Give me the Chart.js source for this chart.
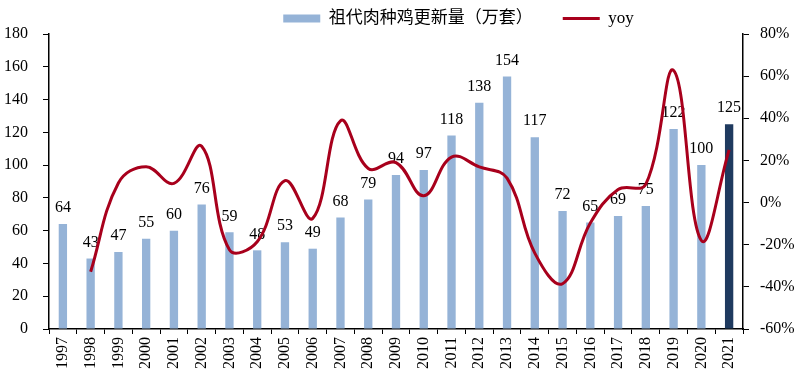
<!DOCTYPE html>
<html>
<head>
<meta charset="utf-8">
<script src="https://cdn.jsdelivr.net/npm/chart.js@4/dist/chart.umd.min.js"></script>
<style>
  html, body { margin: 0; background: #fff; }
  #wrap { width: 800px; height: 379px; }
</style>
</head>
<body>
<div id="wrap"><canvas id="chart"></canvas></div>
<script>
const years = ["1997", "1998", "1999", "2000", "2001", "2002", "2003", "2004", "2005",
    "2006", "2007", "2008", "2009", "2010", "2011", "2012", "2013", "2014", "2015",
    "2016", "2017", "2018", "2019", "2020", "2021"];

// 祖代肉种鸡更新量（万套）
const updates = [64, 43, 47, 55, 60, 76, 59, 48, 53, 49, 68, 79, 94, 97, 118, 138,
    154, 117, 72, 65, 69, 75, 122, 100, 125];

// yoy, %
const yoy = [null, -32.8, 9.3, 17.0, 9.1, 26.7, -22.4, -18.6, 10.4, -7.5, 38.8, 16.2,
    19.0, 3.2, 21.6, 16.9, 11.6, -24.0, -38.5, -9.7, 6.2, 8.7, 62.7, -18.0, 25.0];

const leftTicks = [0, 20, 40, 60, 80, 100, 120, 140, 160, 180];
const rightTicks = [-60, -40, -20, 0, 20, 40, 60, 80];

const serif = "'Liberation Serif', 'Noto Sans CJK SC', serif";
const barColors = years.map(y => y === "2021" ? "#1F3A5F" : "#95B3D7");

// value labels above the bars, drawn before the line so the line sits on top
const barLabels = {
    id: "barLabels",
    afterDatasetDraw(chart, args) {
        if (args.index !== 0) return;
        const ctx = chart.ctx;
        ctx.save();
        ctx.font = "16px " + serif;
        ctx.fillStyle = "#000";
        ctx.textAlign = "center";
        ctx.textBaseline = "bottom";
        args.meta.data.forEach((bar, i) => {
            ctx.fillText(updates[i], bar.x, bar.y - 8);
        });
        ctx.restore();
    }
};

// nudge the legend like the original
const legendShift = {
    id: "legendShift",
    afterLayout(chart) {
        chart.legend.left += 117;
        chart.legend.top += 3;
    }
};

new Chart(document.getElementById("chart"), {
    data: {
        labels: years,
        datasets: [{
            type: "bar",
            label: "祖代肉种鸡更新量（万套）",
            data: updates,
            backgroundColor: barColors,
            borderWidth: 0,
            barPercentage: 0.3,
            categoryPercentage: 1,
            yAxisID: "y",
            order: 2
        }, {
            type: "line",
            label: "yoy",
            data: yoy,
            borderColor: "#A8001C",
            backgroundColor: "#A8001C",
            borderWidth: 3,
            tension: 0.4,
            pointRadius: 0,
            yAxisID: "y1",
            order: 1
        }]
    },
    options: {
        responsive: true,
        maintainAspectRatio: false,
        animation: false,
        layout: {
            padding: { top: -23, left: 0, right: 0, bottom: 0 }
        },
        plugins: {
            tooltip: { enabled: false },
            legend: {
                position: "top",
                labels: {
                    usePointStyle: true,
                    pointStyleWidth: 37,
                    boxHeight: 8,
                    padding: 30,
                    color: "#000",
                    font: { family: serif, size: 17 },
                    generateLabels(chart) {
                        const items = Chart.defaults.plugins.legend.labels.generateLabels(chart);
                        items.sort((a, b) => a.datasetIndex - b.datasetIndex);
                        items[0].pointStyle = "rect";
                        items[0].lineWidth = 0;
                        items[0].fillStyle = "#95B3D7";
                        items[1].pointStyle = "line";
                        items[1].strokeStyle = "#A8001C";
                        items[1].lineWidth = 3;
                        return items;
                    }
                }
            }
        },
        scales: {
            x: {
                grid: {
                    display: true,
                    drawOnChartArea: false,
                    drawTicks: true,
                    tickLength: 5,
                    color: "#000"
                },
                border: { display: true, color: "#000", width: 1.5 },
                ticks: {
                    maxRotation: 90,
                    minRotation: 90,
                    autoSkip: false,
                    padding: 3,
                    color: "#000",
                    font: { family: serif, size: 16 }
                },
                afterFit(scale) { scale.height = 50; }
            },
            y: {
                position: "left",
                min: 0,
                max: 180,
                afterBuildTicks(scale) {
                    scale.ticks = leftTicks.map(v => ({ value: v }));
                },
                grid: {
                    display: true,
                    drawOnChartArea: false,
                    drawTicks: true,
                    tickLength: 6,
                    color: "#000"
                },
                border: { display: true, color: "#000", width: 1.5 },
                ticks: {
                    padding: 15,
                    color: "#000",
                    font: { family: serif, size: 16 }
                },
                afterFit(scale) { scale.width = 49; }
            },
            y1: {
                position: "right",
                min: -60,
                max: 80,
                afterBuildTicks(scale) {
                    scale.ticks = rightTicks.map(v => ({ value: v }));
                },
                grid: {
                    display: true,
                    drawOnChartArea: false,
                    drawTicks: true,
                    tickLength: 6,
                    color: "#000"
                },
                border: { display: true, color: "#000", width: 1.5 },
                ticks: {
                    padding: 11,
                    color: "#000",
                    font: { family: serif, size: 16 },
                    callback: v => v + "%"
                },
                afterFit(scale) { scale.width = 57; }
            }
        }
    },
    plugins: [barLabels, legendShift]
});
</script>
</body>
</html>
